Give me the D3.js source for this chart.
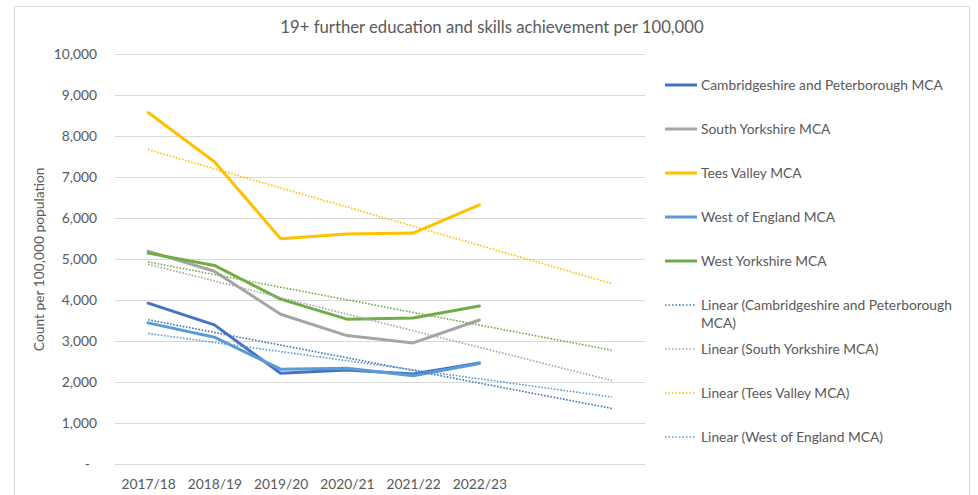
<!DOCTYPE html>
<html>
<head>
<meta charset="utf-8">
<script src="https://cdn.jsdelivr.net/npm/d3@7"></script>
<style>
  html, body { margin: 0; padding: 0; background: #fff; }
  svg { display: block; font-family: Lato, "Open Sans", sans-serif; }
</style>
</head>
<body>
<svg id="chart" width="978" height="495"></svg>
<script>
// Academic years with recorded data
const years = ["2017/18", "2018/19", "2019/20", "2020/21", "2021/22", "2022/23"];
// Trendlines are projected this many periods past the last year
const forecastPeriods = 2;

const seriesNames = [
  "Cambridgeshire and Peterborough MCA",
  "South Yorkshire MCA",
  "Tees Valley MCA",
  "West of England MCA",
  "West Yorkshire MCA"
];

const cambridgeshire = [3930, 3400, 2220, 2300, 2200, 2470];
const southYorkshire = [5200, 4710, 3660, 3140, 2960, 3520];
const teesValley     = [8580, 7380, 5500, 5620, 5640, 6330];
const westOfEngland  = [3450, 3100, 2320, 2340, 2160, 2460];
const westYorkshire  = [5150, 4850, 4030, 3540, 3570, 3860];

const seriesColors = ["#4472C4", "#A5A5A5", "#FFC000", "#5B9BD5", "#70AD47"];

const yTicks = [0, 1000, 2000, 3000, 4000, 5000, 6000, 7000, 8000, 9000, 10000];

// Legend only lists the first four trendlines
const trendLegendCount = 4;

const series = [cambridgeshire, southYorkshire, teesValley, westOfEngland, westYorkshire]
  .map((values, i) => ({ name: seriesNames[i], color: seriesColors[i], values }));

const svg = d3.select("#chart");

// Chart frame
svg.append("rect")
  .attr("x", 14.5).attr("y", 6.5)
  .attr("width", 955).attr("height", 500)
  .attr("fill", "#fff").attr("stroke", "#d9d9d9").attr("stroke-width", 1);

const plot = { left: 115, right: 645, top: 54.3, bottom: 464.3 };

const slots = d3.range(years.length + forecastPeriods);
const x = d3.scalePoint().domain(slots).range([plot.left, plot.right]).padding(0.5);
const y = d3.scaleLinear().domain([0, 10000]).range([plot.bottom, plot.top]);

const textColor = "#595959";

// Title
svg.append("text")
  .attr("x", 492).attr("y", 33)
  .attr("text-anchor", "middle")
  .attr("fill", textColor)
  .attr("font-size", 16.7)
  .text("19+ further education and skills achievement per 100,000");

// Horizontal gridlines
svg.append("g")
  .selectAll("line")
  .data(yTicks)
  .join("line")
  .attr("x1", plot.left).attr("x2", plot.right)
  .attr("y1", d => Math.round(y(d)) + 0.5).attr("y2", d => Math.round(y(d)) + 0.5)
  .attr("stroke", "#d9d9d9").attr("stroke-width", 1);

// Y axis labels
const yAxis = d3.axisLeft(y)
  .tickValues(yTicks)
  .tickSize(0)
  .tickPadding(0)
  .tickFormat(d => d === 0 ? "-" : d3.format(",")(d));
const yAxisG = svg.append("g")
  .attr("transform", `translate(${97},0)`)
  .call(yAxis);
yAxisG.select(".domain").remove();
yAxisG.selectAll("text")
  .attr("fill", textColor)
  .attr("font-size", 13.8)
  .attr("font-family", "Lato, sans-serif");
yAxisG.selectAll(".tick").filter(d => d === 0).select("text").attr("dx", -7);

// X axis labels
const xAxis = d3.axisBottom(x)
  .tickSize(0)
  .tickPadding(0)
  .tickFormat(i => years[i] || "");
const xAxisG = svg.append("g")
  .attr("transform", `translate(0,${479})`)
  .call(xAxis);
xAxisG.select(".domain").remove();
xAxisG.selectAll("text")
  .attr("fill", textColor)
  .attr("font-size", 13.8)
  .attr("font-family", "Lato, sans-serif");

// Y axis title
svg.append("text")
  .attr("transform", `translate(44,${(plot.top + plot.bottom) / 2}) rotate(-90)`)
  .attr("text-anchor", "middle")
  .attr("fill", textColor)
  .attr("font-size", 13.8)
  .text("Count per 100,000 population");

// Least-squares trendline over x = 1..n, extended forward
function linearTrend(values) {
  const n = values.length;
  const xs = d3.range(1, n + 1);
  const mx = d3.mean(xs), my = d3.mean(values);
  const sxy = d3.sum(xs, (xv, i) => (xv - mx) * (values[i] - my));
  const sxx = d3.sum(xs, xv => (xv - mx) ** 2);
  const slope = sxy / sxx;
  const intercept = my - slope * mx;
  return [0, n - 1 + forecastPeriods].map(i => ({ i, v: intercept + slope * (i + 1) }));
}

const line = d3.line().x(d => x(d.i)).y(d => y(d.v));

// Data lines
svg.append("g")
  .selectAll("path")
  .data(series)
  .join("path")
  .attr("d", s => line(s.values.map((v, i) => ({ i, v }))))
  .attr("fill", "none")
  .attr("stroke", s => s.color)
  .attr("stroke-width", 3)
  .attr("stroke-linejoin", "round")
  .attr("stroke-linecap", "round");

// Trendlines
svg.append("g")
  .selectAll("path")
  .data(series)
  .join("path")
  .attr("d", s => line(linearTrend(s.values)))
  .attr("fill", "none")
  .attr("stroke", s => s.color)
  .attr("stroke-width", 1.6)
  .attr("stroke-dasharray", "1.6 1.6");

// Legend
const legendItems = series.map(s => ({ label: s.name, color: s.color, dotted: false }))
  .concat(series.slice(0, trendLegendCount).map(s => ({ label: `Linear (${s.name})`, color: s.color, dotted: true })));

const legendX = 665, legendTextX = 701, legendTop = 85, legendStep = 44, wrapWidth = 258;

const legend = svg.append("g");
let rowY = legendTop;
legendItems.forEach(item => {
  const g = legend.append("g");
  g.append("line")
    .attr("x1", legendX).attr("x2", item.dotted ? legendX + 30 : legendX + 32)
    .attr("y1", rowY).attr("y2", rowY)
    .attr("stroke", item.color)
    .attr("stroke-width", item.dotted ? 1.5 : 3)
    .attr("stroke-dasharray", item.dotted ? "1.5 2" : null);
  const t = g.append("text")
    .attr("x", legendTextX).attr("y", rowY)
    .attr("dy", "0.35em")
    .attr("fill", textColor)
    .attr("font-size", 13.8);
  // word wrap within the legend column
  const words = item.label.split(" ");
  let lineWords = [];
  let tspan = t.append("tspan").attr("x", legendTextX);
  words.forEach(w => {
    lineWords.push(w);
    tspan.text(lineWords.join(" "));
    if (tspan.node().getComputedTextLength() > wrapWidth && lineWords.length > 1) {
      lineWords.pop();
      tspan.text(lineWords.join(" "));
      lineWords = [w];
      tspan = t.append("tspan").attr("x", legendTextX).attr("dy", 18).text(w);
    }
  });
  rowY += legendStep;
});
</script>
</body>
</html>
